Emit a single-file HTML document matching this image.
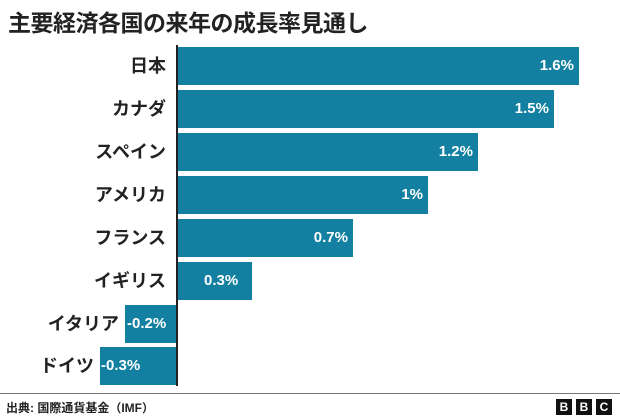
<!DOCTYPE html>
<html><head><meta charset="utf-8"><style>
body{margin:0;width:620px;height:419px;background:#fff;position:relative;overflow:hidden;font-family:"Liberation Sans","Noto Sans CJK JP",sans-serif;}
.t{position:absolute;left:8px;top:4px;font-size:23px;font-weight:bold;color:#222;letter-spacing:-0.5px}
.bar{position:absolute;height:38px;background:#1380a1}
.v{position:absolute;color:#fff;font-size:15px;font-weight:bold;line-height:38px}
.l{position:absolute;right:454px;font-size:18px;font-weight:bold;color:#222;line-height:38px;white-space:nowrap}
.ax{position:absolute;left:176px;top:45px;width:2px;height:341px;background:#222}
.f{position:absolute;left:0;top:393px;width:620px;height:1px;background:#777}
.s{position:absolute;left:6px;top:399px;font-size:12px;font-weight:bold;color:#222}
.b{position:absolute;top:399px;width:16px;height:16px;background:#111;color:#fff;font-size:12px;font-weight:bold;text-align:center;line-height:16px}
</style></head><body>
<div class="t">主要経済各国の来年の成長率見通し</div>
<div class="bar" style="left:178px;width:401px;top:47px"></div><div class="v" style="right:46px;top:47px">1.6%</div><div class="l" style="top:47px">日本</div>
<div class="bar" style="left:178px;width:376px;top:90px"></div><div class="v" style="right:71px;top:90px">1.5%</div><div class="l" style="top:90px">カナダ</div>
<div class="bar" style="left:178px;width:300px;top:133px"></div><div class="v" style="right:147px;top:133px">1.2%</div><div class="l" style="top:133px">スペイン</div>
<div class="bar" style="left:178px;width:250px;top:176px"></div><div class="v" style="right:197px;top:176px">1%</div><div class="l" style="top:176px">アメリカ</div>
<div class="bar" style="left:178px;width:175px;top:219px"></div><div class="v" style="right:272px;top:219px">0.7%</div><div class="l" style="top:219px">フランス</div>
<div class="bar" style="left:178px;width:74px;top:262px"></div><div class="v" style="left:204px;top:262px">0.3%</div><div class="l" style="top:262px">イギリス</div>
<div class="bar" style="left:125px;width:52px;top:305px"></div><div class="v" style="left:127px;top:305px">-0.2%</div><div class="l" style="top:305px;right:501px">イタリア</div>
<div class="bar" style="left:100px;width:77px;top:347px"></div><div class="v" style="left:101px;top:347px">-0.3%</div><div class="l" style="top:347px;right:526px">ドイツ</div>
<div class="ax"></div>
<div class="f"></div>
<div class="s">出典: 国際通貨基金（IMF）</div>
<div class="b" style="left:556px">B</div><div class="b" style="left:576px">B</div><div class="b" style="left:596px">C</div>
</body></html>
